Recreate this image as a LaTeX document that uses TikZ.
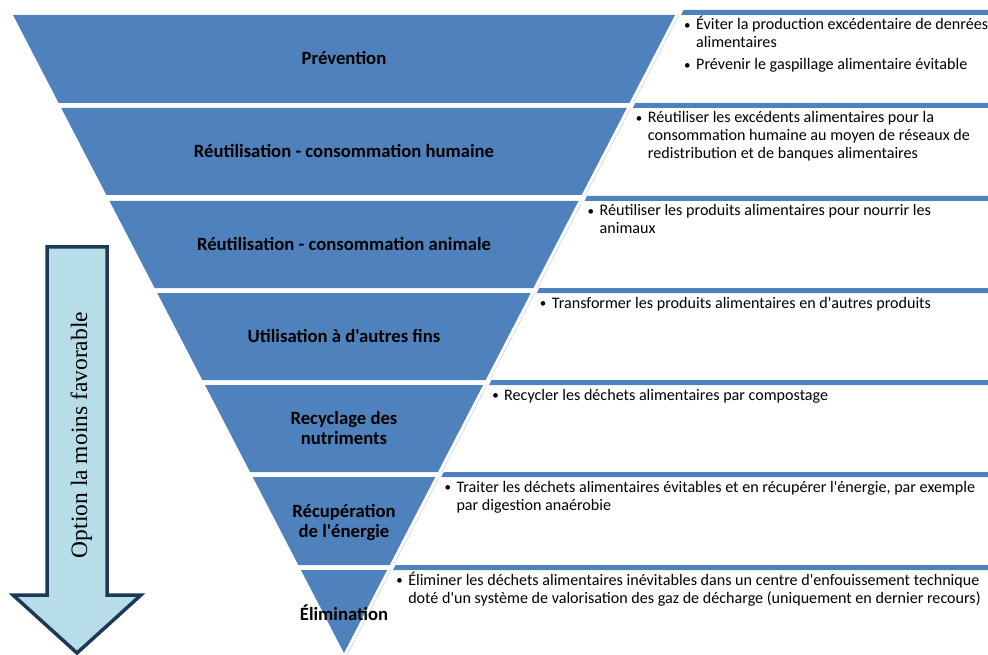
\documentclass[tikz,border=0pt]{standalone}
\usepackage{fontspec}
\newfontfamily\calfont{Carlito}
\newfontfamily\serfont{Liberation Serif}
\definecolor{pyr}{HTML}{4F81BD}
\definecolor{edgeline}{HTML}{C9D5E8}
\definecolor{arrowfill}{HTML}{B7DEE8}
\definecolor{arrowline}{HTML}{1F3856}
\newcommand{\bulletitem}{\llap{\raisebox{0.6pt}{\fontsize{13}{13}\selectfont\textbullet}\hspace{5.5pt}}}

\begin{document}
\begin{tikzpicture}[x=1pt,y=-1pt,
  declare function={xl(\t)=344-0.5188*(653-\t); xr(\t)=344+0.5188*(653-\t);},
  band/.style={fill=pyr},
  bar/.style={fill=pyr},
  sideline/.style={draw=edgeline, line width=0.6pt},
  level/.style={font=\calfont\bfseries\fontsize{18.7}{20}\selectfont, inner sep=0pt, anchor=base},
  action/.style={font=\calfont\fontsize{16.1}{18}\selectfont, inner sep=0pt, anchor=base west},
  direction/.style={fill=arrowfill, draw=arrowline, line width=3.5pt, line join=miter},
]
\useasboundingbox (0,0) rectangle (988,655);

% inverted pyramid: six trapezoid bands and the bottom triangle
\foreach \t/\b in {15/103,108/195,201/288,293/380,385/472,477/565}
  \fill[band] ({xl(\t)},\t) -- ({xr(\t)},\t) -- ({xr(\b)},\b) -- ({xl(\b)},\b) -- cycle;
\fill[band] ({xl(570)},570) -- ({xr(570)},570) -- (344,653) -- cycle;

% header bars of the description panels and their slanted left edges
\foreach \t/\n in {15/103,108/196,201/288,293/380,385/472,477/565,570/655} {
  \fill[bar] ({xr(\t-5)+6},\t-5) -- (988,\t-5) -- (988,\t) -- ({xr(\t)+6},\t) -- cycle;
  \draw[sideline] ({xr(\t)+4},\t) -- ({xr(\n)+4},\n);
}

% level titles
\node[level] (prevention) at (344,65) {Prévention};
\node[level] (humaine) at (344,157.5) {Réutilisation - consommation humaine};
\node[level] (animale) at (344,250.5) {Réutilisation - consommation animale};
\node[level] (autres) at (344,342.5) {Utilisation à d'autres fins};
\node[level] (recyclage) at (344,424) {\begin{tabular}[t]{@{}c@{}}Recyclage des\\nutriments\end{tabular}};
\node[level] (energie) at (344,517) {\begin{tabular}[t]{@{}c@{}}Récupération\\de l'énergie\end{tabular}};
\node[level] (elimination) at (344,620) {Élimination};

% descriptions
\node[action] (d1) at ({xr(15)+21},30) {\begin{tabular}[t]{@{}l@{}}\bulletitem Éviter la production excédentaire de denrées\\alimentaires\\[4pt]\bulletitem Prévenir le gaspillage alimentaire évitable\end{tabular}};
\node[action] (d2) at ({xr(108)+21},123) {\begin{tabular}[t]{@{}l@{}}\bulletitem Réutiliser les excédents alimentaires pour la\\consommation humaine au moyen de réseaux de\\redistribution et de banques alimentaires\end{tabular}};
\node[action] (d3) at ({xr(201)+21},216) {\begin{tabular}[t]{@{}l@{}}\bulletitem Réutiliser les produits alimentaires pour nourrir les\\animaux\end{tabular}};
\node[action] (d4) at ({xr(293)+21},308) {\begin{tabular}[t]{@{}l@{}}\bulletitem Transformer les produits alimentaires en d'autres produits\end{tabular}};
\node[action] (d5) at ({xr(385)+21},400) {\begin{tabular}[t]{@{}l@{}}\bulletitem Recycler les déchets alimentaires par compostage\end{tabular}};
\node[action] (d6) at ({xr(477)+21},492) {\begin{tabular}[t]{@{}l@{}}\bulletitem Traiter les déchets alimentaires évitables et en récupérer l'énergie, par exemple\\par digestion anaérobie\end{tabular}};
\node[action] (d7) at ({xr(570)+21},585) {\begin{tabular}[t]{@{}l@{}}\bulletitem Éliminer les déchets alimentaires inévitables dans un centre d'enfouissement technique\\doté d'un système de valorisation des gaz de décharge (uniquement en dernier recours)\end{tabular}};

% downward arrow on the left
\draw[direction] (47,247) -- (107,247) -- (107,595) -- (141,595) -- (77,653) -- (13,595) -- (47,595) -- cycle;
\node[rotate=90, anchor=base, inner sep=0pt, font=\serfont\fontsize{23.5}{28}\selectfont] (sens) at (87,435) {Option la moins favorable};
\end{tikzpicture}
\end{document}
